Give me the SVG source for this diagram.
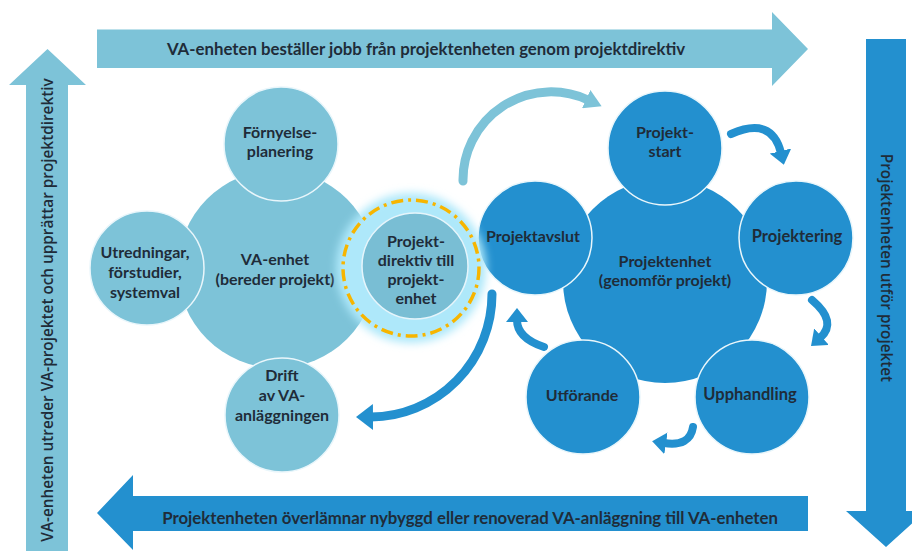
<svg xmlns="http://www.w3.org/2000/svg" width="912" height="551" viewBox="0 0 912 551">
<style>
.light{fill:#7dc3d8}
.dark{fill:#2390cf}
.sc{stroke:#e9f6fb;stroke-width:1.5}
.t{font-family:Lato,"Liberation Sans",sans-serif;font-weight:700;fill:#1f2c39;text-anchor:middle}
.c16{font-size:16px}
.a15{font-size:16.8px}
.side{font-family:"Open Sans","Liberation Sans",sans-serif;font-weight:600;font-size:15.3px;fill:#1f2c39;text-anchor:middle}
.cl{fill:none;stroke:#7dc3d8;stroke-width:9;stroke-linecap:round}
.cd{fill:none;stroke:#2390cf;stroke-width:9;stroke-linecap:round}
</style>
<defs>
<filter id="blur" x="-50%" y="-50%" width="200%" height="200%"><feGaussianBlur stdDeviation="4"/></filter>
<marker id="hl" viewBox="0 0 17 20" refX="2" refY="10" markerWidth="17" markerHeight="20" markerUnits="userSpaceOnUse" orient="auto"><path d="M0,0 L17,10 L0,20 z" fill="#7dc3d8"/></marker>
<marker id="hd" viewBox="0 0 17 26" refX="2" refY="13" markerWidth="17" markerHeight="26" markerUnits="userSpaceOnUse" orient="auto"><path d="M0,0 L17,13 L0,26 z" fill="#2390cf"/></marker>
<marker id="hs" viewBox="0 0 14 22" refX="2" refY="11" markerWidth="14" markerHeight="22" markerUnits="userSpaceOnUse" orient="auto"><path d="M0,0 L14,11 L0,22 z" fill="#2390cf"/></marker>
</defs>
<rect width="912" height="551" fill="#ffffff"/>

<g id="arrow-top">
<polygon class="light" points="97,29.5 772,29.5 772,12 808,49 772,86 772,68 97,68"/>
<text class="t a15" x="426" y="55">VA-enheten beställer jobb från projektenheten genom projektdirektiv</text>
</g>
<g id="arrow-left">
<polygon class="light" points="26,551 26,85 9,85 47.5,49 86,85 68,85 68,551"/>
<text class="side" transform="translate(52.5,310) rotate(-90)">VA-enheten utreder VA-projektet och upprättar projektdirektiv</text>
</g>
<g id="arrow-right">
<polygon class="dark" points="866,39 906,39 906,511 926,511 886,547 846,511 866,511"/>
<text class="side" transform="translate(880.5,268) rotate(90)">Projektenheten utför projektet</text>
</g>
<g id="arrow-bottom">
<polygon class="dark" points="808,496 133,496 133,475 97,513 133,550 133,531 808,531"/>
<text class="t a15" x="470" y="524">Projektenheten överlämnar nybyggd eller renoverad VA-anläggning till VA-enheten</text>
</g>

<g id="va-enhet">
<circle class="light" cx="277" cy="269" r="99"/>
<text class="t c16" x="275" y="265">VA-enhet<tspan x="275" dy="20">(bereder projekt)</tspan></text>
</g>
<g id="fornyelse">
<circle class="light sc" cx="281" cy="144" r="57"/>
<text class="t c16" x="280" y="138">Förnyelse-<tspan x="280" dy="19">planering</tspan></text>
</g>
<g id="utredningar">
<circle class="light sc" cx="147" cy="268" r="57"/>
<text class="t c16" x="145" y="258">Utredningar,<tspan x="145" dy="20">förstudier,</tspan><tspan x="145" dy="20">systemval</tspan></text>
</g>
<g id="drift">
<circle class="light sc" cx="282" cy="415" r="57"/>
<text class="t c16" x="282" y="381">Drift<tspan x="282" dy="20">av VA-</tspan><tspan x="282" dy="20">anläggningen</tspan></text>
</g>

<g id="projektenhet">
<circle class="dark" cx="665" cy="281" r="102"/>
<text class="t c16" x="665" y="267">Projektenhet<tspan x="665" dy="19">(genomför projekt)</tspan></text>
</g>
<g id="projektstart">
<circle class="dark sc" cx="665" cy="148" r="57"/>
<text class="t c16" x="665" y="138">Projekt-<tspan x="665" dy="19">start</tspan></text>
</g>
<g id="projektering">
<circle class="dark sc" cx="796" cy="238" r="57"/>
<text class="t c16" x="797" y="242" style="font-size:16.5px">Projektering</text>
</g>
<g id="upphandling">
<circle class="dark sc" cx="752" cy="397" r="57"/>
<text class="t c16" x="750" y="400" style="font-size:16.5px">Upphandling</text>
</g>
<g id="utforande">
<circle class="dark sc" cx="583" cy="397" r="57"/>
<text class="t c16" x="582" y="401">Utförande</text>
</g>
<g id="projektavslut">
<circle class="dark sc" cx="535" cy="238" r="57"/>
<text class="t c16" x="533" y="242">Projektavslut</text>
</g>

<g id="projektdirektiv">
<circle cx="411" cy="268" r="75" fill="#aee8fa" filter="url(#blur)"/>
<circle cx="411" cy="268" r="68" fill="none" stroke="#f7b500" stroke-width="3.5" stroke-dasharray="12 5 3 5"/>
<circle cx="415" cy="266" r="53" fill="#79bed4" stroke="#e6f5fb" stroke-width="1.5"/>
<text class="t c16" x="416" y="247">Projekt-<tspan x="416" dy="19">direktiv till</tspan><tspan x="416" dy="19">projekt-</tspan><tspan x="416" dy="19">enhet</tspan></text>
</g>

<g id="connectors">
<path class="cl" d="M463 181 A88 88 0 0 1 588 100" marker-end="url(#hl)"/>
<path class="cd" d="M492 294 A122 123 0 0 1 371 417" marker-end="url(#hd)"/>
<path class="cd" style="stroke-width:8" d="M731 134 Q772 116 781 153" marker-end="url(#hs)"/>
<path class="cd" style="stroke-width:8" d="M812 300 Q838 322 820 338" marker-end="url(#hs)"/>
<path class="cd" style="stroke-width:8" d="M693 427 Q690 447 664 443" marker-end="url(#hs)"/>
<path class="cd" style="stroke-width:8" d="M544 347 Q517 338 517 320" marker-end="url(#hs)"/>
</g>
</svg>
